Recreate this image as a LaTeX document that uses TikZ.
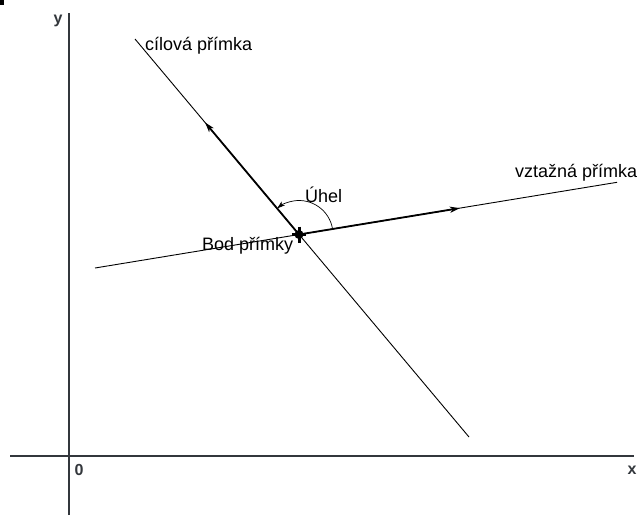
\documentclass[tikz,border=0pt]{standalone}
\usepackage{fontspec}
\setmainfont{Liberation Sans}
\usetikzlibrary{arrows.meta,calc}
\definecolor{axisgray}{HTML}{33373C}
\begin{document}
\begin{tikzpicture}[x=1pt,y=-1pt,
  axisline/.style={draw=axisgray,line width=2pt},
  plainline/.style={draw=black,line width=0.9pt},
  boldline/.style={draw=black,line width=1.8pt},
  tip/.style={-{Stealth[length=10pt,width=6pt,inset=2.5pt]}},
  lbl/.style={anchor=base west,inner sep=0pt,font=\fontsize{18}{20}\selectfont},
  axlbl/.style={anchor=base,inner sep=0pt,text=axisgray,font=\fontsize{16}{18}\selectfont\bfseries}]
\useasboundingbox (0,0) rectangle (642,515);
\fill (0,0) rectangle (4,5);
% axes
\coordinate (YT) at (69,13); \coordinate (YB) at (69,515);
\coordinate (XL) at (10,456); \coordinate (XR) at (634,456);
\draw[axisline] (YB) -- (YT);
\draw[axisline] (XL) -- (XR);
\node[axlbl] (ylab) at (58,23) {y};
\node[axlbl] (zero) at (79,475) {0};
\node[axlbl] (xlab) at (632,474) {x};
% lines
\coordinate (P) at (299,234.5);
\coordinate (C1) at (135,39); \coordinate (C2) at (469,437);
\coordinate (V1) at (95,268); \coordinate (V2) at (617,182.3);
\coordinate (CA) at (205,122.4); \coordinate (VA) at (460,208.1);
\draw[plainline] (C1) -- (C2);
\draw[plainline] (V1) -- (V2);
\draw[boldline,tip] (P) -- (CA);
\draw[boldline,tip] (P) -- (VA);
% angle arc
\draw[draw=black,line width=0.7pt,-{Stealth[length=8pt,width=5pt,inset=2pt]}] (P) ++(-9.33:34) arc[start angle=-9.33,end angle=-130,radius=34];
% marker
\draw[line width=3pt] ($(P)+(-7,0)$) -- ($(P)+(7,0)$);
\draw[line width=3pt] ($(P)+(0,-8)$) -- ($(P)+(0,8)$);
\fill (P) circle (4.5);
% labels
\node[lbl] (lc) at (145,50) {cílová přímka};
\node[lbl] (lv) at (515,177) {vztažná přímka};
\node[lbl] (lu) at (305,202) {Úhel};
\node[lbl] (lb) at (202,250) {Bod přímky};
\end{tikzpicture}
\end{document}
